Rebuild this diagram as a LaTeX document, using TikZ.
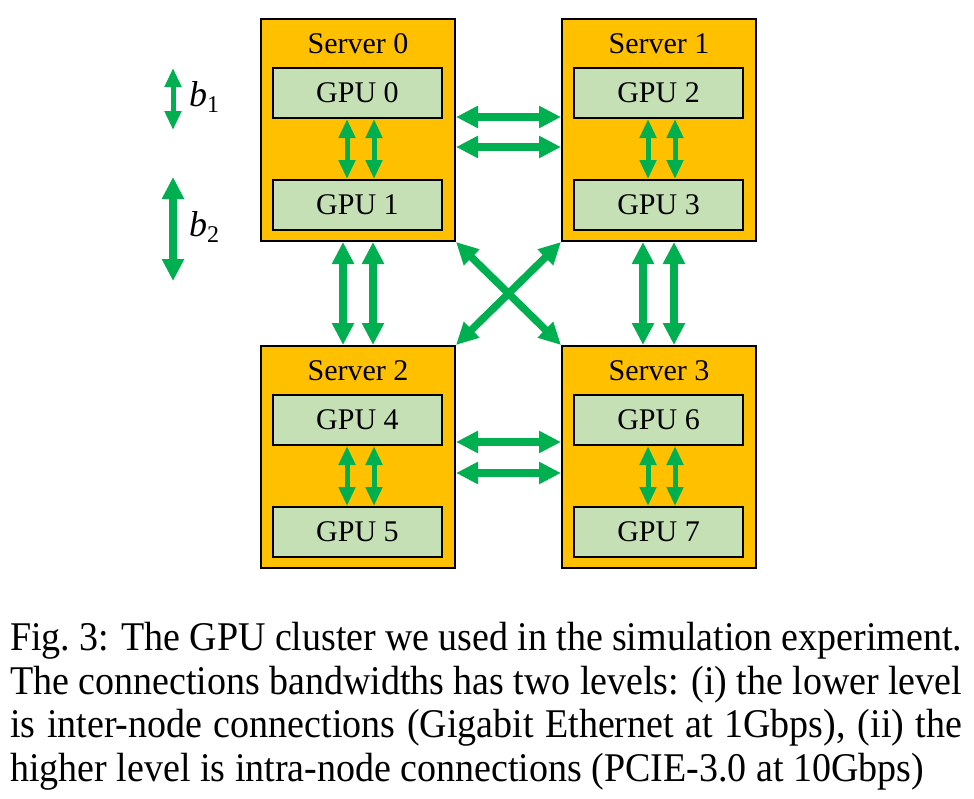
\documentclass[tikz,border=0pt]{standalone}
\usepackage{fontspec}
\setmainfont{Liberation Serif}
\usetikzlibrary{arrows.meta,calc}
\definecolor{srvorange}{HTML}{FFC000}
\definecolor{gpugreen}{HTML}{C5E0B4}
\definecolor{arrgreen}{HTML}{00B050}
\tikzset{
  server/.style={draw=black, line width=2pt, fill=srvorange, minimum width=194pt, minimum height=222pt, anchor=north west, inner sep=0pt},
  srvlabel/.style={font=\fontsize{30}{30}\selectfont, inner sep=0pt, anchor=base},
  gpu/.style={draw=black, line width=2pt, fill=gpugreen, minimum width=169pt, minimum height=50pt, anchor=north west, inner sep=0pt, font=\fontsize{30}{30}\selectfont},
  intra/.style={draw=arrgreen, line width=5pt, {Triangle[width=16pt,length=19pt]}-{Triangle[width=16pt,length=19pt]}},
  inter/.style={draw=arrgreen, line width=7.5pt, {Triangle[width=21pt,length=22pt]}-{Triangle[width=21pt,length=22pt]}},
  legtext/.style={font=\fontsize{36}{36}\selectfont, inner sep=0pt, anchor=base west},
  captext/.style={inner sep=0pt, anchor=base west}
}
\begin{document}
\begin{tikzpicture}[x=1pt,y=-1pt]
\path[use as bounding box] (0,0) rectangle (974,798);
\fill[white] (0,0) rectangle (974,798);

% servers
\node[server] (s0) at (260,18) {};
\node[server] (s1) at (561,18) {};
\node[server] (s2) at (260,345) {};
\node[server] (s3) at (561,345) {};

\node[srvlabel] (s0l) at ($(s0.north)+(0,35)$) {Server 0};
\node[srvlabel] (s1l) at ($(s1.north)+(0,35)$) {Server 1};
\node[srvlabel] (s2l) at ($(s2.north)+(0,35)$) {Server 2};
\node[srvlabel] (s3l) at ($(s3.north)+(0,35)$) {Server 3};

% GPUs
\node[gpu] (g0) at ($(s0.north west)+(12,49)$) {GPU 0};
\node[gpu] (g1) at ($(s0.north west)+(12,161)$) {GPU 1};
\node[gpu] (g2) at ($(s1.north west)+(12,49)$) {GPU 2};
\node[gpu] (g3) at ($(s1.north west)+(12,161)$) {GPU 3};
\node[gpu] (g4) at ($(s2.north west)+(12,49)$) {GPU 4};
\node[gpu] (g5) at ($(s2.north west)+(12,161)$) {GPU 5};
\node[gpu] (g6) at ($(s3.north west)+(12,49)$) {GPU 6};
\node[gpu] (g7) at ($(s3.north west)+(12,161)$) {GPU 7};

% intra-node arrows
\foreach \a/\b in {g0/g1,g2/g3,g4/g5,g6/g7}{
  \draw[intra] ($(\a.south west)+(75,0)$) -- ($(\b.north west)+(75,0)$);
  \draw[intra] ($(\a.south west)+(102,0)$) -- ($(\b.north west)+(102,0)$);
}

% inter-node arrows
\draw[inter] ($(s0.south west)+(83,0)$) -- ($(s2.north west)+(83,0)$);
\draw[inter] ($(s0.south west)+(113,0)$) -- ($(s2.north west)+(113,0)$);
\draw[inter] ($(s1.south west)+(82,0)$) -- ($(s3.north west)+(82,0)$);
\draw[inter] ($(s1.south west)+(113,0)$) -- ($(s3.north west)+(113,0)$);
\draw[inter] ($(s0.north east)+(0,99)$) -- ($(s1.north west)+(0,99)$);
\draw[inter] ($(s0.north east)+(0,129)$) -- ($(s1.north west)+(0,129)$);
\draw[inter] ($(s2.north east)+(0,97)$) -- ($(s3.north west)+(0,97)$);
\draw[inter] ($(s2.north east)+(0,128)$) -- ($(s3.north west)+(0,128)$);
\draw[inter] (s0.south east) -- (s3.north west);
\draw[inter] (s1.south west) -- (s2.north east);

% legend
\coordinate (b1t) at (173,68);
\coordinate (b1b) at (173,130);
\coordinate (b2t) at (173,177);
\coordinate (b2b) at (173,281);
\draw[intra] (b1t) -- (b1b);
\draw[inter] (b2t) -- (b2b);
\node[legtext] (lb1) at (189,106) {\textit{b}\raisebox{-6pt}{\fontsize{24}{24}\selectfont 1}};
\node[legtext] (lb2) at (189,236) {\textit{b}\raisebox{-6pt}{\fontsize{24}{24}\selectfont 2}};

% caption
\node[captext] (cap) at (10,650) {\scalebox{1}[1.073]{\parbox[t]{952pt}{\fontsize{38}{41}\selectfont
Fig.~3: The GPU cluster we used in the simulation experiment.\linebreak
The connections bandwidths has two levels: (i) the lower level\linebreak
is inter-node connections (Gigabit Ethernet at 1Gbps), (ii) the\linebreak
higher level is intra-node connections (PCIE-3.0 at 10Gbps)}}};
\end{tikzpicture}
\end{document}
